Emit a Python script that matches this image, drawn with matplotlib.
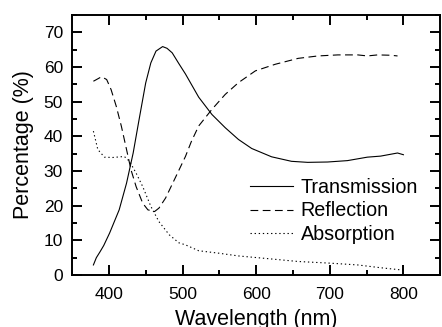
import matplotlib.pyplot as plt
from matplotlib.ticker import MultipleLocator

plt.rcParams['font.family'] = ['Liberation Sans', 'DejaVu Sans']

t_wl = [379, 383, 388, 393, 401, 414, 424, 433, 441, 450, 457, 464, 473, 479,
        486, 495, 504, 522, 540, 558, 576, 594, 621, 648, 670, 697, 724, 751,
        769, 792, 800]
trans = [2.9, 5.0, 6.7, 8.5, 12.1, 18.8, 26.5, 35.2, 44.8, 55.4, 61.2, 64.6,
         65.9, 65.4, 64.1, 61.0, 58.0, 51.3, 46.3, 42.5, 39.1, 36.5, 34.1, 32.8,
         32.5, 32.6, 33.0, 34.0, 34.3, 35.2, 34.7]

r_wl = [379, 385, 390, 397, 403, 410, 417, 424, 430, 437, 446, 453, 462, 468,
        477, 491, 504, 512, 522, 540, 558, 576, 599, 626, 657, 684, 711, 738,
        751, 765, 783, 792]
refl = [55.9, 56.6, 57.2, 56.4, 53.5, 48.7, 42.9, 36.2, 30.4, 25.5, 20.7, 18.8,
        18.3, 19.3, 22.2, 28.4, 34.2, 38.5, 43.0, 47.8, 52.1, 55.5, 58.9, 60.8,
        62.5, 63.2, 63.5, 63.5, 63.2, 63.5, 63.4, 63.2]

a_wl = [379, 385, 394, 405, 421, 428, 437, 446, 457, 468, 482, 495, 504, 522,
        549, 576, 612, 657, 702, 738, 769, 800]
absorp = [41.5, 36.2, 34.0, 33.9, 34.2, 32.8, 29.4, 25.5, 19.8, 15.4, 11.6,
          9.3, 8.7, 7.0, 6.3, 5.5, 4.8, 3.9, 3.4, 2.9, 2.1, 1.4]

fig = plt.figure(figsize=(4.42, 3.27), dpi=100)
ax = fig.add_axes([0.163, 0.159, 0.833, 0.795])

ax.plot(t_wl, trans, color='black', lw=0.8, ls='-', label='Transmission')
ax.plot(r_wl, refl, color='black', lw=0.8, ls=(0, (7, 4)), label='Reflection')
ax.plot(a_wl, absorp, color='black', lw=0.8, ls=(0, (1.2, 2.5)), label='Absorption')

ax.set_xlim(350, 850)
ax.set_ylim(0, 75)
ax.xaxis.set_major_locator(MultipleLocator(100))
ax.xaxis.set_minor_locator(MultipleLocator(50))
ax.yaxis.set_major_locator(MultipleLocator(10))
ax.yaxis.set_minor_locator(MultipleLocator(5))
ax.tick_params(which='both', direction='in', top=True, right=True,
               width=1.4, labelsize=12.5)
ax.tick_params(which='major', length=7)
ax.tick_params(which='minor', length=3.6)
ax.tick_params(axis='x', pad=8.5)
ax.tick_params(axis='y', pad=6.5)
for s in ax.spines.values():
    s.set_linewidth(1.4)

ax.set_xlabel('Wavelength (nm)', fontsize=15.5, labelpad=5.5)
ax.set_ylabel('Percentage (%)', fontsize=15.5, labelpad=7)

ax.legend(frameon=False, fontsize=14.2, loc='upper left',
          bbox_to_anchor=(0.482, 0.375), handlelength=2.2, handletextpad=0.4,
          labelspacing=0.25, borderaxespad=0, borderpad=0)

fig.savefig('out.png', dpi=100)
